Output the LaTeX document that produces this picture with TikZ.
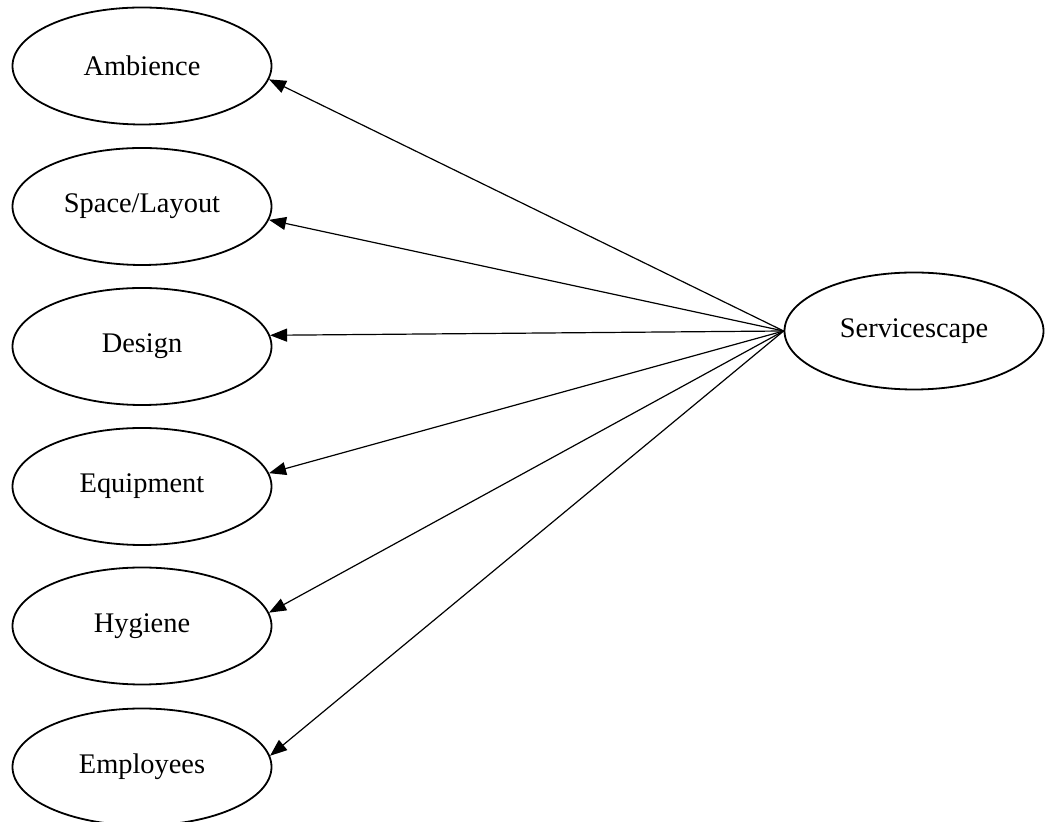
\documentclass[tikz,border=0pt]{standalone}
\usepackage{fontspec}
\setmainfont{Liberation Serif}
\usetikzlibrary{shapes.geometric,arrows.meta}
\begin{document}
\begin{tikzpicture}[x=0.5pt,y=-0.5pt,
  factor/.style={ellipse,draw,line width=0.9pt,inner sep=0pt,
    minimum width=129.5pt,minimum height=58.5pt,
    font=\fontsize{14.2pt}{17pt}\selectfont},
  link/.style={line width=0.6pt,-{Triangle[length=8.5pt,width=6.5pt]}}]
  \useasboundingbox (0,0) rectangle (1045,822);
  \clip (0,0) rectangle (1045,822);
  % dimensions of the servicescape
  \node[factor] (amb) at (142,66)    {Ambience};
  \node[factor] (spa) at (142,206.5) {Space/Layout};
  \node[factor] (des) at (142,346.5) {Design};
  \node[factor] (equ) at (142,486.5) {Equipment};
  \node[factor] (hyg) at (142,626)   {Hygiene};
  \node[factor] (emp) at (142,767)   {Employees};
  % overall construct
  \node[factor] (svc) at (914,331)   {Servicescape};
  % paths from the construct to its dimensions
  \draw[link] (svc.west) -- (amb.-6);
  \draw[link] (svc.west) -- (spa.-6);
  \draw[link] (svc.west) -- (des.5);
  \draw[link] (svc.west) -- (equ.6);
  \draw[link] (svc.west) -- (hyg.6);
  \draw[link] (svc.west) -- (emp.5.5);
\end{tikzpicture}
\end{document}
